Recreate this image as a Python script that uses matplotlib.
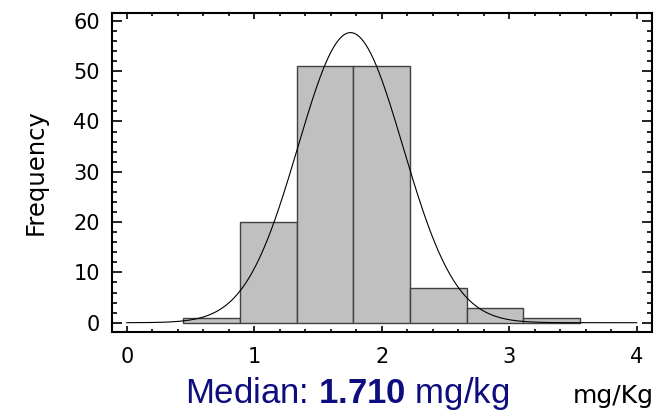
import numpy as np
import matplotlib.pyplot as plt
from matplotlib.ticker import MultipleLocator

# histogram data
bin_edges = [4/9, 8/9, 12/9, 16/9, 20/9, 24/9, 28/9, 32/9]
counts = [1, 20, 51, 51, 7, 3, 1]

# fitted normal curve parameters
fit_mean = 1.755
fit_sd = 0.412
median_value = 1.710

plt.rcParams['font.family'] = ['DejaVu Sans']
plt.rcParams['mathtext.fontset'] = 'custom'
plt.rcParams['mathtext.rm'] = 'Liberation Sans'
plt.rcParams['mathtext.bf'] = 'Liberation Sans:bold'

fig = plt.figure(figsize=(6.63, 4.16), dpi=100)
ax = fig.add_axes([0.1685, 0.2026, 0.983 - 0.1685, 0.9695 - 0.2026])

widths = np.diff(bin_edges)
ax.bar(bin_edges[:-1], counts, width=widths, align='edge',
       color='#c0c0c0', edgecolor='#404040', linewidth=1.0, zorder=2)

x = np.linspace(0, 4, 400)
scale = sum(counts) * widths[0]
y = scale / (fit_sd * np.sqrt(2 * np.pi)) * np.exp(-(x - fit_mean) ** 2 / (2 * fit_sd ** 2))
ax.plot(x, y, color='black', linewidth=0.8, zorder=3)

ax.set_xlim(-0.118, 4.118)
ax.set_ylim(-1.79, 61.63)
ax.xaxis.set_major_locator(MultipleLocator(1))
ax.xaxis.set_minor_locator(MultipleLocator(0.2))
ax.yaxis.set_major_locator(MultipleLocator(10))
ax.yaxis.set_minor_locator(MultipleLocator(2))
ax.tick_params(which='both', direction='in', top=True, right=True, labelsize=15)
ax.tick_params(axis='y', which='major', length=7, width=1.2, pad=8.5)
ax.tick_params(axis='y', which='minor', length=3.5, width=1.2)
ax.tick_params(axis='x', which='major', length=4.5, width=1.2, pad=11)
ax.tick_params(axis='x', which='minor', length=2.5, width=1.2)
for s in ax.spines.values():
    s.set_linewidth(1.5)

fig.text(36 / 663, 1 - 172 / 416, 'Frequency', rotation=90, ha='center', va='center', fontsize=17.5)

fig.text(347 / 663, 1 - 403 / 416,
         r'Median: $\mathbf{%.3f}$ mg/kg' % median_value,
         ha='center', va='baseline', fontsize=25, color='#0d0d80',
         family='Liberation Sans')
fig.text(613 / 663, 1 - 403 / 416, 'mg/Kg', ha='center', va='baseline', fontsize=18)

fig.savefig('out.png', dpi=100)
